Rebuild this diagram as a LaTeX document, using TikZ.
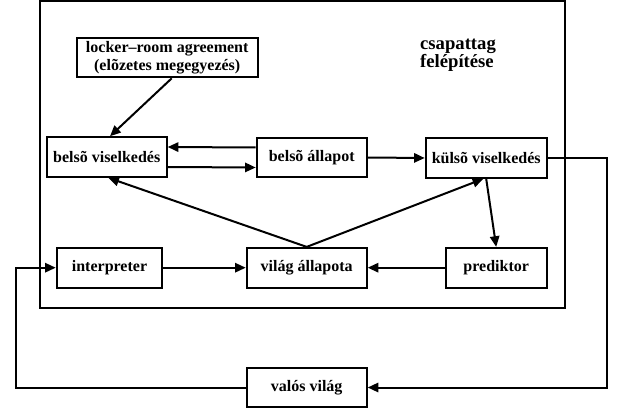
\documentclass[tikz,border=0pt]{standalone}
\usepackage{fontspec}
\setmainfont{Liberation Serif}
\usepackage{tikz}
\usetikzlibrary{positioning,arrows.meta,calc}

\begin{document}
\begin{tikzpicture}[x=0.75pt, y=-0.75pt,
  box/.style={rectangle, draw=black, line width=1.5pt, fill=white,
              font=\fontsize{12}{13.5}\selectfont\bfseries, inner sep=1pt,
              minimum height=29.7pt, align=center},
  ea/.style={-{Triangle[length=8pt, width=7pt]}, line width=1.5pt},
]
\useasboundingbox (0,0) rectangle (623,409);

% team member frame
\draw[line width=1.5pt] (39.5,1.5) rectangle (564.5,307.5);
\node[font=\fontsize{14}{13.5}\selectfont\bfseries, align=left] (ttl) at (458,55) {csapattag\\felépítése};

\node[box, minimum width=135.75pt] (lra)   at (167.2,57.5)  {locker--room agreement\\(elõzetes megegyezés)};
\node[box, minimum width=90pt]     (bv)    at (106.7,157)   {belsõ viselkedés};
\node[box, minimum width=82.5pt]   (ba)    at (311.7,157.5) {belsõ állapot};
\node[box, minimum width=90.75pt]  (kv)    at (486.2,158)   {külsõ viselkedés};
\node[box, minimum width=79.2pt]   (intp)  at (109.5,267.7) {interpreter};
\node[box, minimum width=90pt]     (va)    at (306.7,267.7) {világ állapota};
\node[box, minimum width=75.75pt]  (pred)  at (496.2,267.7) {prediktor};
\node[box, minimum width=90pt]     (vv)    at (306.7,387.5) {valós világ};

\draw[ea] ([xshift=3.4pt]lra.south) -- ([xshift=2.5pt]bv.north);
\draw[ea] ([yshift=7.5pt]ba.west) -- ([yshift=7.5pt]bv.east);
\draw[ea] ([yshift=-7.5pt]bv.east) -- ([yshift=-7.5pt]ba.west);
\draw[ea] (ba.east) -- (kv.west);
\draw[ea] (kv.south) -- (pred.north);
\draw[ea] (va.north) -- ([xshift=1.2pt]bv.south);
\draw[ea] (va.north) -- ([xshift=-2.2pt]kv.south);
\draw[ea] (intp) -- (va);
\draw[ea] (pred) -- (va);

% outside world loop
\draw[ea] (kv.east) -- ++(59,0) |- (vv.east);
\draw[ea] (vv.west) -- ++(-230,0) |- (intp.west);

\end{tikzpicture}
\end{document}
